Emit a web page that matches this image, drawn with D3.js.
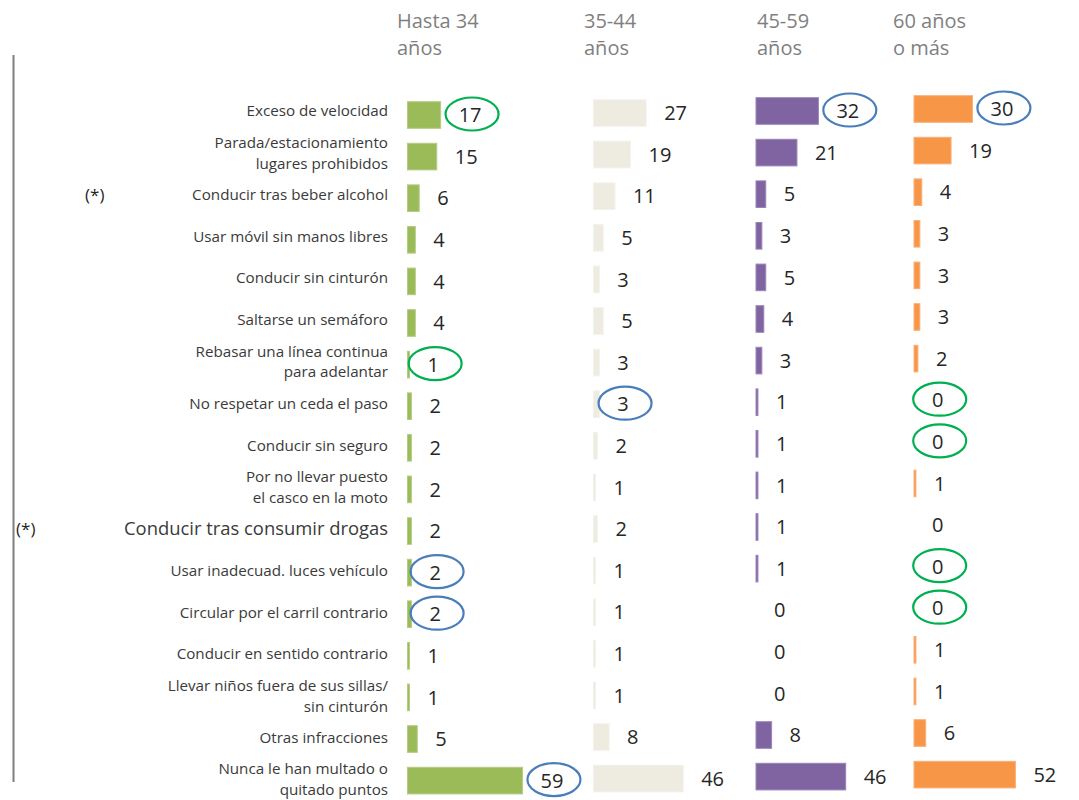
<!DOCTYPE html>
<html lang="es">
<head>
<meta charset="utf-8">
<script src="https://cdn.jsdelivr.net/npm/d3@7"></script>
<style>
  html, body { margin: 0; padding: 0; background: #ffffff; }
  svg { display: block; font-family: "Open Sans", "Noto Sans", sans-serif; }
</style>
</head>
<body>
<svg id="chart" width="1079" height="800"></svg>
<script>
// Infractions (rows) and age groups (panels)
const categories = [
  "Exceso de velocidad",
  "Parada/estacionamiento\nlugares prohibidos",
  "Conducir tras beber alcohol",
  "Usar móvil sin manos libres",
  "Conducir sin cinturón",
  "Saltarse un semáforo",
  "Rebasar una línea continua\npara adelantar",
  "No respetar un ceda el paso",
  "Conducir sin seguro",
  "Por no llevar puesto\nel casco en la moto",
  "Conducir tras consumir drogas",
  "Usar inadecuad. luces vehículo",
  "Circular por el carril contrario",
  "Conducir en sentido contrario",
  "Llevar niños fuera de sus sillas/\nsin cinturón",
  "Otras infracciones",
  "Nunca le han multado o\nquitado puntos"
];

const groupLabels = ["Hasta 34\naños", "35-44\naños", "45-59\naños", "60 años\no más"];

const hasta34 = [17, 15, 6, 4, 4, 4, 1, 2, 2, 2, 2, 2, 2, 1, 1, 5, 59];
const de35a44 = [27, 19, 11, 5, 3, 5, 3, 3, 2, 1, 2, 1, 1, 1, 1, 8, 46];
const de45a59 = [32, 21, 5, 3, 5, 4, 3, 1, 1, 1, 1, 1, 0, 0, 0, 8, 46];
const mas60   = [30, 19, 4, 3, 3, 3, 2, 0, 0, 1, 0, 0, 0, 1, 1, 6, 52];

// Rows flagged with an asterisk note
const asteriskRows = [2, 10];

// Circled values: [row, panel, tone]
const highlights = [
  [0, 0, "green"], [6, 0, "green"],
  [7, 3, "green"], [8, 3, "green"], [11, 3, "green"], [12, 3, "green"],
  [0, 2, "blue"], [0, 3, "blue"], [7, 1, "blue"],
  [11, 0, "blue"], [12, 0, "blue"], [16, 0, "blue"]
];

const series = [hasta34, de35a44, de45a59, mas60];

// Styling per panel
const panelX   = [407.5, 593.5, 756, 914];
const panelDy  = [0, -2, -4, -6];
const fills    = ["#9bbb59", "#eeece1", "#8064a2", "#f79646"];
const strokes  = ["#b4cc83", "#f3f2ea", "#9a85b8", "#f9b07a"];
const headerX  = [397, 584, 757, 893];
const ringColor = { green: "#00b050", blue: "#4a7ebb" };

const svg = d3.select("#chart");

const y = d3.scaleBand()
  .domain(d3.range(categories.length))
  .range([86.7, 808.9])
  .padding(0.36);

const yLabel = d3.scalePoint()
  .domain(d3.range(categories.length))
  .range([111, 779.5]);

const x = d3.scaleLinear().domain([0, 60]).range([0, 117]);

// Left rule
svg.append("line")
  .attr("x1", 13.5).attr("x2", 13.5)
  .attr("y1", 55).attr("y2", 782)
  .attr("stroke", "#7f7f7f").attr("stroke-width", 2);

// Panel headers
groupLabels.forEach((lab, p) => {
  const t = svg.append("text")
    .attr("x", headerX[p]).attr("y", 28)
    .attr("fill", "#7f7f7f")
    .attr("font-size", 20);
  lab.split("\n").forEach((line, k) => {
    t.append("tspan").attr("x", headerX[p]).attr("y", 28 + k * 27).text(line);
  });
});

// Category labels (one text element per line)
categories.forEach((cat, i) => {
  const lines = cat.split("\n");
  const cy = yLabel(i);
  const big = i === 10;
  lines.forEach((line, k) => {
    const off = lines.length === 1 ? 0 : (k === 0 ? -10.4 : 10.4);
    svg.append("text")
      .attr("text-anchor", "end")
      .attr("fill", "#3a3a3a")
      .attr("font-size", big ? 18.4 : 15.2)
      .attr("x", 388)
      .attr("y", cy + off)
      .attr("dy", "0.35em")
      .text(line);
  });
});

// Asterisk notes
const asteriskX = { 2: 85, 10: 16 };
asteriskRows.forEach(i => {
  svg.append("text")
    .attr("x", asteriskX[i])
    .attr("y", yLabel(i))
    .attr("dy", "0.35em")
    .attr("fill", "#1f1f1f")
    .attr("font-size", 17)
    .text("(*)");
});

// Bars and value labels
series.forEach((vals, p) => {
  const g = svg.append("g")
    .attr("transform", `translate(${panelX[p]},${panelDy[p]})`);

  g.selectAll("rect")
    .data(vals.map((v, i) => ({ v, i })).filter(d => d.v > 0))
    .join("rect")
    .attr("x", 0)
    .attr("y", d => y(d.i))
    .attr("width", d => x(d.v))
    .attr("height", y.bandwidth())
    .attr("fill", fills[p])
    .attr("stroke", strokes[p])
    .attr("stroke-width", 1);

  g.selectAll("text.value")
    .data(vals.map((v, i) => ({ v, i })))
    .join("text")
    .attr("class", "value")
    .attr("x", d => x(d.v) + 18)
    .attr("y", d => y(d.i) + y.bandwidth() / 2)
    .attr("dy", "0.36em")
    .attr("fill", "#262626")
    .attr("font-size", 20)
    .text(d => d.v);
});

// Rings around highlighted values
highlights.forEach(([i, p, tone]) => {
  const v = series[p][i];
  const w = String(v).length * 11.4;
  const cx = panelX[p] + x(v) + 18 + w / 2 + 2;
  const cy = panelDy[p] + y(i) + y.bandwidth() / 2 - 1;
  svg.append("ellipse")
    .attr("cx", cx).attr("cy", cy)
    .attr("rx", 26.5).attr("ry", 16.5)
    .attr("fill", "none")
    .attr("stroke", ringColor[tone])
    .attr("stroke-width", 2.2);
});
</script>
</body>
</html>
